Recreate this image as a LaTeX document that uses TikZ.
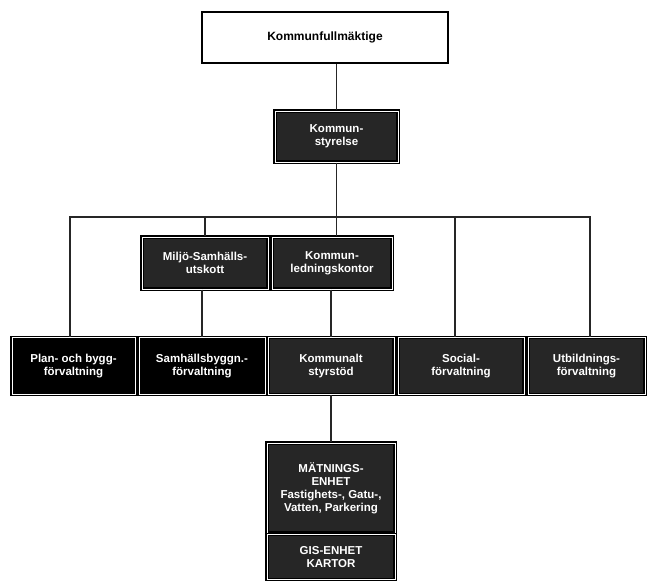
\documentclass[tikz,border=0pt]{standalone}
\usepackage{fontspec}
\setmainfont{Liberation Sans}
\setsansfont{Liberation Sans}
\begin{document}
\begin{tikzpicture}[x=1pt,y=-1pt,
  wbox/.style={draw=black,line width=1.3pt,fill=white,inner sep=0pt,font=\bfseries\fontsize{12}{13}\selectfont},
  dbox/.style={draw=black,double=white,double distance=0.9pt,line width=1.1pt,fill=black!85,text=white,
    inner sep=0pt,align=center,font=\bfseries\fontsize{11.5}{13}\selectfont},
  kbox/.style={dbox,fill=black},
  conn/.style={line width=1.2pt,draw=black!85}]
\useasboundingbox (0,0) rectangle (647,581);
\node[wbox,minimum width=246pt,minimum height=51pt] (kf) at (325,37.5) {Kommunfullmäktige};
\node[dbox,minimum width=123pt,minimum height=51pt] (ks) at (336.5,136.5) {Kommun-\\styrelse};
\node[dbox,minimum width=126pt,minimum height=52pt] (ms) at (205,263) {Miljö-Samhälls-\\utskott};
\node[dbox,minimum width=120pt,minimum height=52pt] (kl) at (332,263) {Kommun-\\ledningskontor};
\node[kbox,minimum width=123pt,minimum height=57pt] (b1) at (73.5,366) {Plan- och bygg-\\förvaltning};
\node[kbox,minimum width=126pt,minimum height=57pt] (b2) at (202,366) {Samhällsbyggn.-\\förvaltning};
\node[dbox,minimum width=126pt,minimum height=57pt] (b3) at (331,366) {Kommunalt\\styrstöd};
\node[dbox,minimum width=126pt,minimum height=57pt] (b4) at (461,366) {Social-\\förvaltning};
\node[dbox,minimum width=117pt,minimum height=57pt] (b5) at (586.5,366) {Utbildnings-\\förvaltning};
\node[dbox,minimum width=128pt,minimum height=90pt] (me) at (331,488) {MÄTNINGS-\\ENHET\\Fastighets-, Gatu-,\\Vatten, Parkering};
\node[dbox,minimum width=128pt,minimum height=45pt,anchor=north] (gi) at (me.south) {GIS-ENHET\\KARTOR};
\coordinate (bus) at (0,217);
\coordinate (ka) at (336.5,0);
\coordinate (x1) at (70,0);
\coordinate (x2) at (205,0);
\coordinate (x4) at (455,0);
\coordinate (x5) at (590,0);
\draw[conn] (kf.south -| ka) -- (ks.north);
\draw[conn] (ks.south) -- (kl.north -| ks.south);
\draw[conn] (x1 |- b1.north) -- (x1 |- bus) -- (x5 |- bus) -- (x5 |- b5.north);
\draw[conn] (x2 |- bus) -- (x2 |- ms.north);
\draw[conn] (x4 |- bus) -- (x4 |- b4.north);
\draw[conn] (ms.south -| b2.north) -- (b2.north);
\draw[conn] (kl.south -| b3.north) -- (b3.north);
\draw[conn] (b3.south) -- (me.north);
\end{tikzpicture}
\end{document}
